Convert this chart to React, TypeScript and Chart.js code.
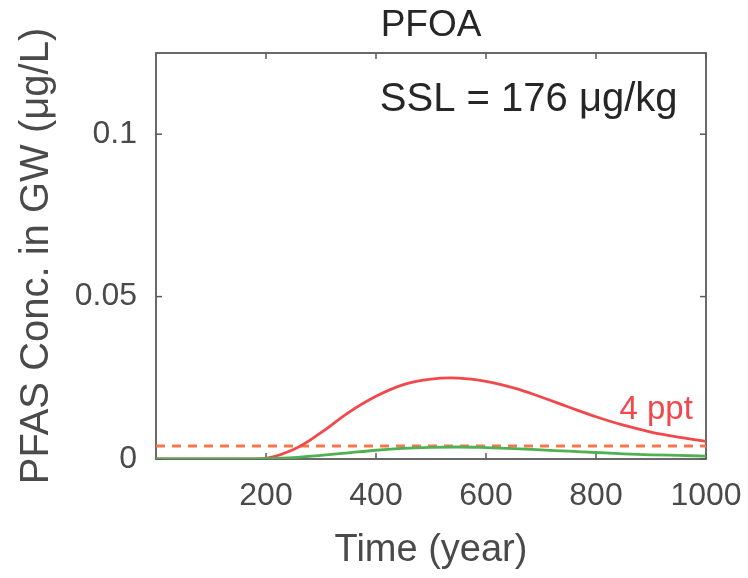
import React, { useEffect, useRef } from "react";
import { Chart, registerables } from "chart.js";

Chart.register(...registerables);

// ---- Data ----
const years = [0, 50, 100, 150, 200, 250, 300, 350, 400, 450, 500, 550, 600, 650, 700, 750, 800, 850, 900, 950, 1000];
const redConc = [0, 0, 0, 0, 0.0002, 0.0029, 0.0081, 0.0143, 0.0193, 0.0229, 0.0246, 0.0249, 0.0239, 0.0219, 0.0191, 0.016, 0.013, 0.0104, 0.0083, 0.0067, 0.0054];
const greenConc = [0, 0, 0, 0, 0.0001, 0.0004, 0.0011, 0.0019, 0.0027, 0.0033, 0.0036, 0.0037, 0.0035, 0.0032, 0.0028, 0.0024, 0.002, 0.0016, 0.0013, 0.0011, 0.0009];
const thresholdYears = [0, 1000];
const thresholdConc = 0.004;
const xTickValues = [200, 400, 600, 800, 1000];
const yTickValues = [0, 0.05, 0.1];
const yTickLabels = ["0", "0.05", "0.1"];
const titleText = "PFOA";
const sslText = "SSL = 176 μg/kg";
const thresholdLabel = "4 ppt";
const xAxisLabel = "Time (year)";
const yAxisLabel = "PFAS Conc. in GW (μg/L)";

const FONT = '"Liberation Sans", Arial, sans-serif';
const TEXT_GRAY = "#4a4a4a";
const AXIS_GRAY = "#5a5a5a";
const RED = "#f2484b";
const GREEN = "#4fb152";
const DASH = "#f6774f";

const boxPlugin = {
  id: "matlabBox",
  beforeDatasetsDraw(chart: any) {
    const { ctx, chartArea, scales } = chart;
    const { left, right, top, bottom } = chartArea;
    const x = scales.x;
    const y = scales.y;
    ctx.save();
    ctx.strokeStyle = AXIS_GRAY;
    ctx.lineWidth = 1.8;
    ctx.strokeRect(left, top, right - left, bottom - top);
    ctx.lineWidth = 1.5;
    const tl = 6;
    const line = (x1: number, y1: number, x2: number, y2: number) => {
      ctx.beginPath();
      ctx.moveTo(x1, y1);
      ctx.lineTo(x2, y2);
      ctx.stroke();
    };
    xTickValues.forEach((v) => {
      const px = x.getPixelForValue(v);
      line(px, bottom, px, bottom - tl);
      line(px, top, px, top + tl);
    });
    yTickValues.forEach((v) => {
      const py = y.getPixelForValue(v);
      line(left, py, left + tl, py);
      line(right, py, right - tl, py);
    });
    ctx.restore();
  },
  afterDatasetsDraw(chart: any) {
    const { ctx, chartArea, scales } = chart;
    const { left, right, top } = chartArea;
    const x = scales.x;
    const y = scales.y;
    ctx.save();
    ctx.textBaseline = "middle";
    ctx.fillStyle = "#262626";
    ctx.textAlign = "center";
    ctx.font = `37px ${FONT}`;
    ctx.fillText(titleText, (left + right) / 2, top - 27);

    ctx.textAlign = "left";
    ctx.font = `40px ${FONT}`;
    ctx.fillText(sslText, x.getPixelForValue(407), y.getPixelForValue(0.1105));

    ctx.fillStyle = RED;
    ctx.textAlign = "right";
    ctx.font = `33px ${FONT}`;
    ctx.fillText(thresholdLabel, x.getPixelForValue(976), y.getPixelForValue(0.0151));
    ctx.restore();
  },
};

export default function App() {
  const canvasRef = useRef<HTMLCanvasElement | null>(null);

  useEffect(() => {
    if (!canvasRef.current) return;
    const chart = new Chart(canvasRef.current, {
      type: "line",
      data: {
        datasets: [
          {
            label: "green",
            data: years.map((t, i) => ({ x: t, y: greenConc[i] })),
            borderColor: GREEN,
            borderWidth: 2.8,
            pointRadius: 0,
            cubicInterpolationMode: "monotone",
            fill: false,
          },
          {
            label: "red",
            data: years.map((t, i) => ({ x: t, y: redConc[i] })),
            borderColor: RED,
            borderWidth: 2.8,
            pointRadius: 0,
            tension: 0.4,
            fill: false,
          },
          {
            label: "4 ppt",
            data: thresholdYears.map((t) => ({ x: t, y: thresholdConc })),
            borderColor: DASH,
            borderWidth: 2.8,
            borderDash: [9, 7],
            pointRadius: 0,
            fill: false,
          },
        ],
      },
      options: {
        animation: false,
        responsive: false,
        maintainAspectRatio: false,
        layout: { padding: { top: 53, right: 42, bottom: 0, left: 0 } },
        plugins: {
          legend: { display: false },
          tooltip: { enabled: false },
          title: { display: false },
        },
        scales: {
          x: {
            type: "linear",
            min: 0,
            max: 1000,
            grid: { display: false, drawTicks: false },
            border: { display: false },
            afterBuildTicks: (scale: any) => {
              scale.ticks = xTickValues.map((v) => ({ value: v }));
            },
            afterFit: (scale: any) => {
              scale.height = 119;
              scale.paddingLeft = 0;
              scale.paddingRight = 0;
            },
            ticks: {
              padding: 18,
              color: TEXT_GRAY,
              font: { family: FONT, size: 32 },
              maxRotation: 0,
              autoSkip: false,
              callback: (v: any) => String(v),
            },
            title: {
              display: true,
              text: xAxisLabel,
              color: TEXT_GRAY,
              font: { family: FONT, size: 38 },
              padding: { top: 0, bottom: 5 },
            },
          },
          y: {
            type: "linear",
            min: 0,
            max: 0.125,
            grid: { display: false, drawTicks: false },
            border: { display: false },
            afterBuildTicks: (scale: any) => {
              scale.ticks = yTickValues.map((v) => ({ value: v }));
            },
            afterFit: (scale: any) => {
              scale.width = 156;
              scale.paddingTop = 0;
              scale.paddingBottom = 0;
            },
            ticks: {
              padding: 19,
              color: TEXT_GRAY,
              font: { family: FONT, size: 32 },
              autoSkip: false,
              callback: (v: any) => {
                const i = yTickValues.indexOf(Number(v));
                return i >= 0 ? yTickLabels[i] : "";
              },
            },
            title: {
              display: true,
              text: yAxisLabel,
              color: TEXT_GRAY,
              font: { family: FONT, size: 40 },
              padding: { top: 13, bottom: 0 },
            },
          },
        },
      },
      plugins: [boxPlugin],
    } as any);
    return () => chart.destroy();
  }, []);

  return (
    <div style={{ position: "absolute", left: 0, top: 0, width: 748, height: 578, background: "#fff" }}>
      <canvas ref={canvasRef} width={748} height={578} style={{ display: "block" }} />
    </div>
  );
}
